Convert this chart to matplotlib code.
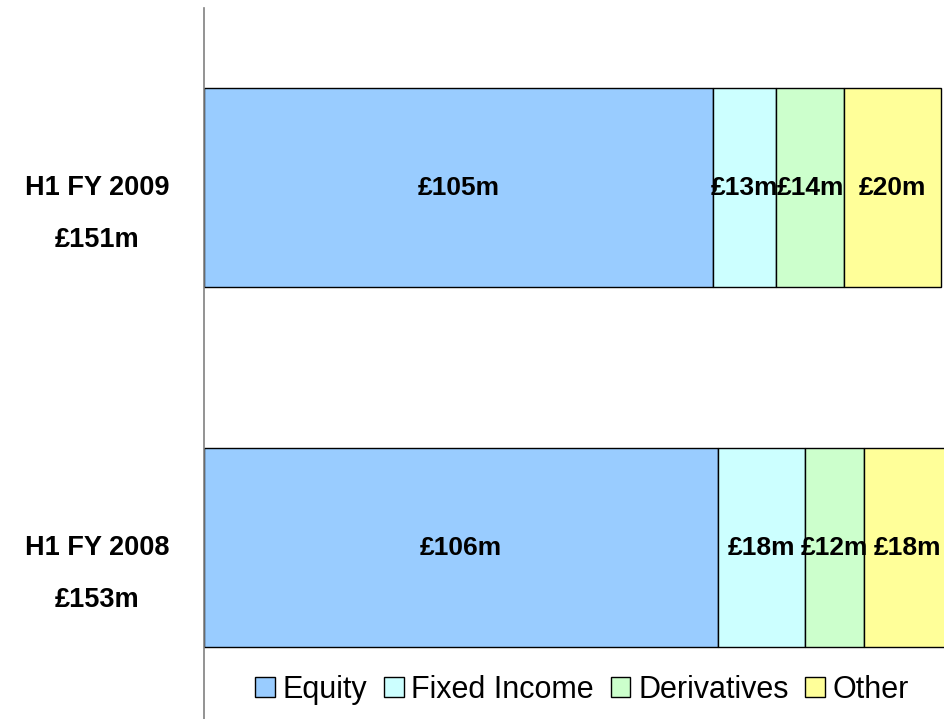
import matplotlib.pyplot as plt
import matplotlib.transforms as mtransforms
from matplotlib.patches import Patch

plt.rcParams['font.family'] = ['Liberation Sans', 'DejaVu Sans']

periods = ["H1 FY 2008", "H1 FY 2009"]
totals = ["£153m", "£151m"]
segments = ["Equity", "Fixed Income", "Derivatives", "Other"]
equity = [106, 105]
fixed_income = [18, 13]
derivatives = [12, 14]
other = [18, 20]
colors = ["#99CCFF", "#CCFFFF", "#CCFFCC", "#FFFF99"]

W, H = 944, 719
fig = plt.figure(figsize=(W / 100, H / 100), dpi=100)
ax = fig.add_axes([204 / W, 0, 1 - 204 / W, 1 - 8 / H])

ypos = [0, 1]
series = [equity, fixed_income, derivatives, other]
left = [0, 0]
for vals, col in zip(series, colors):
    ax.barh(ypos, vals, left=left, height=0.553, color=col,
            edgecolor="black", linewidth=1)
    for y, l, v in zip(ypos, left, vals):
        ax.text(l + v / 2, y, f"£{v}m", ha="center", va="center",
                fontsize=19, fontweight="bold", clip_on=False)
    left = [a + b for a, b in zip(left, vals)]

ax.set_xlim(0, 152.6)
ax.set_ylim(-0.476, 1.499)
ax.set_xticks([])
ax.set_yticks([])
for s in ["top", "right", "bottom"]:
    ax.spines[s].set_visible(False)
ax.spines["left"].set_color("#808080")
ax.spines["left"].set_linewidth(1.2)

# category labels to the left of the axis
base = mtransforms.blended_transform_factory(fig.transFigure, ax.transData)
for y, p, t in zip(ypos, periods, totals):
    ax.text(97 / W, y, p, transform=base, ha="center", va="center",
            fontsize=19.5, fontweight="bold")
    off = mtransforms.offset_copy(base, fig=fig, y=-52, units="dots")
    ax.text(97 / W, y, t, transform=off, ha="center", va="center",
            fontsize=19.5, fontweight="bold")

handles = [Patch(facecolor=c, edgecolor="black", linewidth=1) for c in colors]
fig.legend(handles, segments, loc="center", bbox_to_anchor=(582 / W, 1 - 690 / H),
           ncol=4, frameon=False, fontsize=22, handlelength=0.65, handleheight=0.65,
           handletextpad=0.25, columnspacing=0.55)

fig.savefig("out.png", dpi=100)
